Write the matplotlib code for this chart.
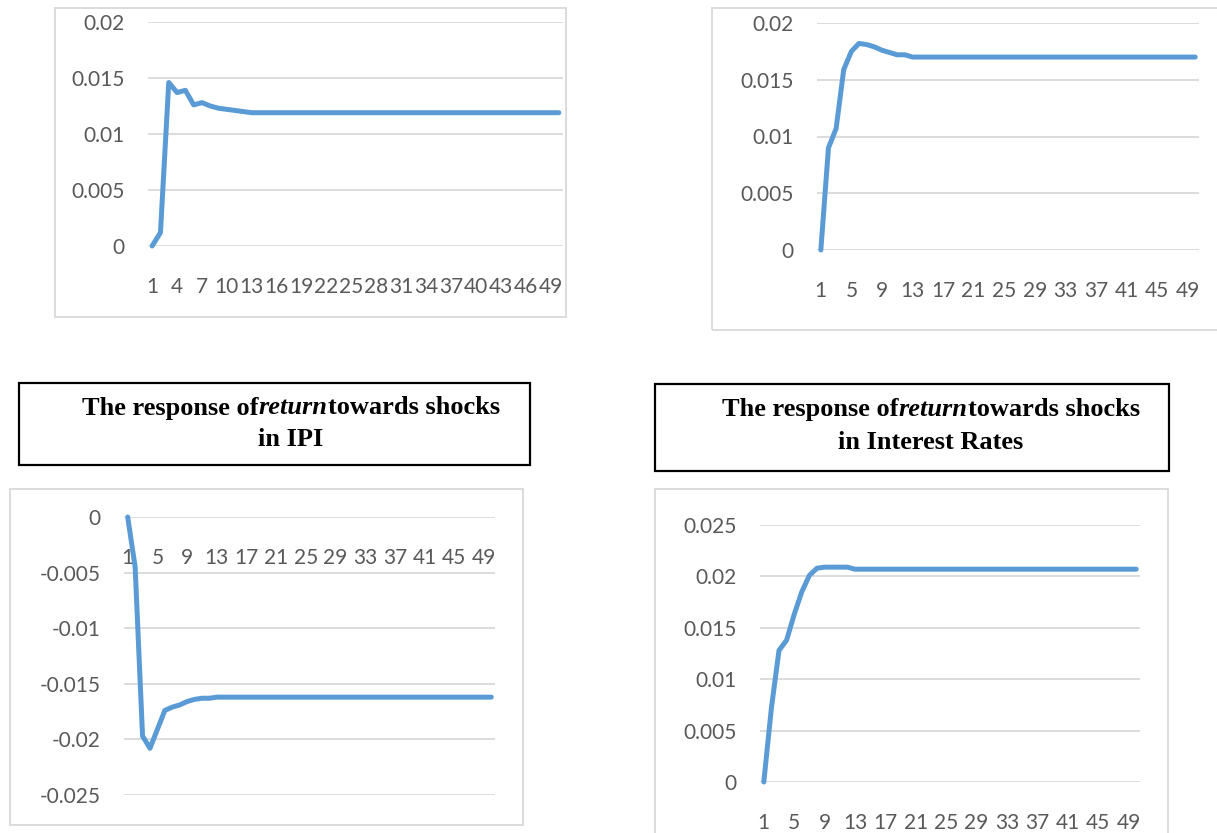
import matplotlib
matplotlib.use("Agg")
import matplotlib.pyplot as plt
from matplotlib.patches import Rectangle
from matplotlib.ticker import FuncFormatter

# figure size in pixels
W, H = 1217, 833

periods = list(range(1, 51))

# impulse responses (periods 1..50)
resp_top_left = [
    0.0, 0.0012, 0.0146, 0.0137, 0.0139, 0.0126, 0.0128, 0.0125, 0.0123, 0.0122,
    0.0121, 0.0120, 0.0119, 0.0119, 0.0119, 0.0119, 0.0119, 0.0119, 0.0119, 0.0119,
    0.0119, 0.0119, 0.0119, 0.0119, 0.0119, 0.0119, 0.0119, 0.0119, 0.0119, 0.0119,
    0.0119, 0.0119, 0.0119, 0.0119, 0.0119, 0.0119, 0.0119, 0.0119, 0.0119, 0.0119,
    0.0119, 0.0119, 0.0119, 0.0119, 0.0119, 0.0119, 0.0119, 0.0119, 0.0119, 0.0119,
]
resp_top_right = [
    0.0, 0.0090, 0.0107, 0.0159, 0.0175, 0.0182, 0.0181, 0.0179, 0.0176, 0.0174,
    0.0172, 0.0172, 0.0170, 0.0170, 0.0170, 0.0170, 0.0170, 0.0170, 0.0170, 0.0170,
    0.0170, 0.0170, 0.0170, 0.0170, 0.0170, 0.0170, 0.0170, 0.0170, 0.0170, 0.0170,
    0.0170, 0.0170, 0.0170, 0.0170, 0.0170, 0.0170, 0.0170, 0.0170, 0.0170, 0.0170,
    0.0170, 0.0170, 0.0170, 0.0170, 0.0170, 0.0170, 0.0170, 0.0170, 0.0170, 0.0170,
]
resp_ipi = [
    0.0, -0.0045, -0.0197, -0.0208, -0.0191, -0.0174, -0.0171, -0.0169, -0.0166, -0.0164,
    -0.0163, -0.0163, -0.0162, -0.0162, -0.0162, -0.0162, -0.0162, -0.0162, -0.0162, -0.0162,
    -0.0162, -0.0162, -0.0162, -0.0162, -0.0162, -0.0162, -0.0162, -0.0162, -0.0162, -0.0162,
    -0.0162, -0.0162, -0.0162, -0.0162, -0.0162, -0.0162, -0.0162, -0.0162, -0.0162, -0.0162,
    -0.0162, -0.0162, -0.0162, -0.0162, -0.0162, -0.0162, -0.0162, -0.0162, -0.0162, -0.0162,
]
resp_rates = [
    0.0, 0.0072, 0.0128, 0.0138, 0.0163, 0.0185, 0.0201, 0.0208, 0.0209, 0.0209,
    0.0209, 0.0209, 0.0207, 0.0207, 0.0207, 0.0207, 0.0207, 0.0207, 0.0207, 0.0207,
    0.0207, 0.0207, 0.0207, 0.0207, 0.0207, 0.0207, 0.0207, 0.0207, 0.0207, 0.0207,
    0.0207, 0.0207, 0.0207, 0.0207, 0.0207, 0.0207, 0.0207, 0.0207, 0.0207, 0.0207,
    0.0207, 0.0207, 0.0207, 0.0207, 0.0207, 0.0207, 0.0207, 0.0207, 0.0207, 0.0207,
]

title_start = "The response of"
title_italic = "return"
title_end = "towards shocks"
title_ipi = "in IPI"
title_rates = "in Interest Rates"

LINE = "#5B9BD5"
GRID = "#D9D9D9"
LABEL = "#595959"


def px_rect(x0, y0, x1, y1):
    return [x0 / W, 1 - y1 / H, (x1 - x0) / W, (y1 - y0) / H]


fig = plt.figure(figsize=(W / 100, H / 100), dpi=100)
fig.patch.set_facecolor("white")

# light grey chart frames
for x0, y0, x1, y1 in [(55, 8, 566, 317), (712, 8, 1222, 330),
                       (10, 489, 523, 825), (655, 489, 1168, 845)]:
    fig.patches.append(Rectangle((x0 / W, 1 - y1 / H), (x1 - x0) / W, (y1 - y0) / H,
                                 transform=fig.transFigure, fill=False,
                                 edgecolor=GRID, linewidth=1.3))


def make_panel(rect, values, yticks, xstep):
    ax = fig.add_axes(px_rect(*rect))
    ax.plot(periods, values, color=LINE, linewidth=3.6, solid_capstyle="round",
            solid_joinstyle="round", clip_on=False, zorder=3)
    ax.set_xlim(0.5, 50.5)
    ax.set_ylim(yticks[0], yticks[-1])
    ax.set_yticks(yticks)
    ax.yaxis.set_major_formatter(FuncFormatter(lambda v, p: "{:g}".format(round(v, 4))))
    ax.set_xticks(list(range(1, 51, xstep)))
    for s in ax.spines.values():
        s.set_visible(False)
    ax.spines["bottom"].set_position(("data", 0))
    ax.grid(axis="y", color=GRID, linewidth=1.3)
    ax.set_axisbelow(True)
    ax.tick_params(axis="both", length=0, labelcolor=LABEL, labelsize=15)
    ax.tick_params(axis="y", pad=17)
    ax.tick_params(axis="x", pad=22)
    for lab in ax.get_xticklabels() + ax.get_yticklabels():
        lab.set_fontfamily("Lato")
    return ax


make_panel((148, 22, 563, 246), resp_top_left, [0, 0.005, 0.01, 0.015, 0.02], 3)
make_panel((817, 23, 1199, 250), resp_top_right, [0, 0.005, 0.01, 0.015, 0.02], 4)
make_panel((124, 517, 495, 795), resp_ipi, [-0.025, -0.02, -0.015, -0.01, -0.005, 0], 4)
make_panel((760, 525, 1140, 782), resp_rates, [0, 0.005, 0.01, 0.015, 0.02, 0.025], 4)

# title boxes above the bottom charts
for x0, y0, x1, y1 in [(19, 383, 530, 465), (655, 384, 1169, 471)]:
    fig.patches.append(Rectangle((x0 / W, 1 - y1 / H), (x1 - x0) / W, (y1 - y0) / H,
                                 transform=fig.transFigure, fill=False,
                                 edgecolor="black", linewidth=1.6))

renderer = fig.canvas.get_renderer()
tfont = dict(family="Liberation Serif", weight="bold", size=19, color="black")


def draw_title(cx, y_line1, y_line2, second):
    pieces = [(title_start, "normal"), (title_italic, "italic"), (title_end, "normal")]
    texts = []
    for txt, style in pieces:
        t = fig.text(0, 1 - y_line1 / H, txt, style=style, va="center", ha="left", **tfont)
        texts.append(t)
    widths = [t.get_window_extent(renderer).width for t in texts]
    x = cx - sum(widths) / 2
    for t, w in zip(texts, widths):
        t.set_x(x / W)
        x += w
    fig.text(cx / W, 1 - y_line2 / H, second, ha="center", va="center", **tfont)


draw_title(291, 408, 440, title_ipi)
draw_title(931, 410, 443, title_rates)

fig.savefig("out.png", dpi=100)
